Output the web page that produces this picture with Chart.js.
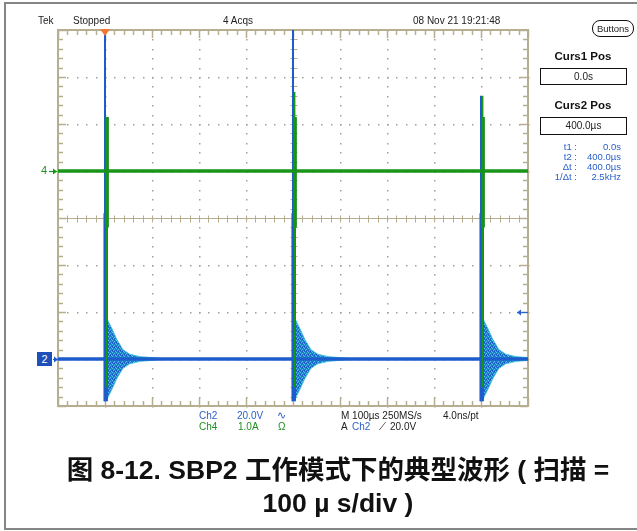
<!DOCTYPE html>
<html>
<head>
<meta charset="utf-8">
<script src="https://cdn.jsdelivr.net/npm/chart.js@4.4.1/dist/chart.umd.min.js"></script>
<style>
  body { margin: 0; background: #fff; }
  #wrap { position: relative; width: 637px; height: 531px; overflow: hidden; background: #fff; }
  #scope { position: absolute; left: 0; top: 0; }
  .frame { position: absolute; left: 4px; top: 2px; width: 640px; height: 524px;
           border-left: 2px solid #858585; border-top: 2px solid #858585; border-bottom: 2px solid #858585; }
  .t { position: absolute; white-space: nowrap; line-height: 1; font-family: "Liberation Sans", Arial, sans-serif; font-size: 10px; color: #222; }
  .blue { color: #2a5fc8; }
  .green { color: #1f8f1f; }
  .hdr { font-weight: bold; font-size: 11.5px; color: #111; width: 100px; text-align: center; }
  .box { position: absolute; border: 1px solid #111; text-align: center; font-family: "Liberation Sans", Arial, sans-serif; font-size: 10px; color: #222; box-sizing: border-box; }
  .lbl { width: 50px; text-align: right; font-size: 9.5px; }
  .val { width: 60px; text-align: right; font-size: 9.5px; }
  #caption { position: absolute; left: 0; width: 676px; top: 454px; text-align: center;
             font-family: "Liberation Sans", "Noto Sans CJK SC", sans-serif; font-weight: bold; font-size: 26.5px; line-height: 33px; color: #111; }
</style>
</head>
<body>
<div id="wrap">
  <canvas id="scope" width="637" height="531"></canvas>
  <div class="frame"></div>

  <div class="t" style="left:38px;top:16px;">Tek</div>
  <div class="t" style="left:73px;top:16px;">Stopped</div>
  <div class="t" style="left:223px;top:16px;">4 Acqs</div>
  <div class="t" style="left:413px;top:16px;">08 Nov 21 19:21:48</div>
  <div class="box" style="left:592px;top:20px;width:42px;height:17px;border-radius:8px;line-height:15px;font-size:9.5px;">Buttons</div>

  <div class="t hdr" style="left:533px;top:51px;">Curs1 Pos</div>
  <div class="box" style="left:540px;top:68px;width:87px;height:17px;line-height:15px;">0.0s</div>
  <div class="t hdr" style="left:533px;top:100px;">Curs2 Pos</div>
  <div class="box" style="left:540px;top:117px;width:87px;height:18px;line-height:16px;">400.0µs</div>

  <div class="t blue lbl" style="left:527px;top:142px;">t1 :</div>
  <div class="t blue val" style="left:561px;top:142px;">0.0s</div>
  <div class="t blue lbl" style="left:527px;top:152px;">t2 :</div>
  <div class="t blue val" style="left:561px;top:152px;">400.0µs</div>
  <div class="t blue lbl" style="left:527px;top:162px;">Δt :</div>
  <div class="t blue val" style="left:561px;top:162px;">400.0µs</div>
  <div class="t blue lbl" style="left:527px;top:172px;">1/Δt :</div>
  <div class="t blue val" style="left:561px;top:172px;">2.5kHz</div>

  <div class="t green" style="left:41px;top:165px;font-size:11px;">4</div>
  <div class="t" style="left:37px;top:352px;width:15px;height:14px;background:#1f4fb8;color:#fff;font-size:11px;line-height:14px;text-align:center;">2</div>

  <div class="t blue" style="left:199px;top:411px;">Ch2</div>
  <div class="t blue" style="left:237px;top:411px;">20.0V</div>
  <div class="t blue" style="left:277px;top:410px;font-size:11px;">∿</div>
  <div class="t" style="left:341px;top:411px;">M 100µs 250MS/s</div>
  <div class="t" style="left:443px;top:411px;">4.0ns/pt</div>
  <div class="t green" style="left:199px;top:422px;">Ch4</div>
  <div class="t green" style="left:238px;top:422px;">1.0A</div>
  <div class="t green" style="left:278px;top:422px;">Ω</div>
  <div class="t" style="left:341px;top:422px;">A</div>
  <div class="t blue" style="left:352px;top:422px;">Ch2</div>
  <div class="t" style="left:379px;top:422px;">⟋</div>
  <div class="t" style="left:390px;top:422px;">20.0V</div>

  <div id="caption">图 8-12. SBP2 工作模式下的典型波形 ( 扫描 =<br>100 µ s/div )</div>
</div>

<script>
// 时间轴：100 µs/div，触发点在 0 µs（左起第 1 格）
const timeMin = -100;
const timeMax = 900;
const divMin = -4;
const divMax = 4;

// 每 400 µs 一次开关沿
const edgeTimes = [0, 400, 800];

// Ch4（电流，绿色）基线与尖峰，单位：格
const ch4Level = 1.0;
const ch4WideTop = [2.15, 2.15, 2.15];
const ch4WideBottom = [-0.2, -0.2, -0.2];
const ch4TipTop = [2.15, 2.68, 2.6];
const ch4ThinBottom = [-3.6, -3.6, -3.6];

// Ch2（电压，蓝色）基线与尖峰
const ch2Level = -3.0;
const ch2SpikeTop = [4.3, 4.3, 2.6];
const ch2SpikeBottom = [-3.9, -3.9, -3.9];
const ch2WideTop = [0.1, 0.1, 0.1];

// 沿后振铃包络：距沿的时间 (µs) 与幅度 (格)
const ringDt = [0, 2, 5, 10, 15, 25, 38, 53, 75, 100, 130];
const ringAmp = [0, 0.87, 0.84, 0.74, 0.64, 0.42, 0.2, 0.1, 0.05, 0.03, 0];

// Ch2 触发电平（20.0V，1 格 = 20V）
const trigLevel = -2.0;

const COL_BLUE = 'rgb(28, 92, 205)';
const COL_CYAN = 'rgb(70, 200, 225)';
const COL_GREEN = 'rgb(24, 150, 24)';
const COL_GRID = 'rgb(182, 174, 142)';
const COL_DOT = 'rgb(160, 160, 150)';

function ringPoints(sign) {
    const pts = [{x: timeMin, y: ch2Level}];
    edgeTimes.forEach(t0 => {
        ringDt.forEach((dt, i) => pts.push({x: t0 + dt, y: ch2Level + sign * ringAmp[i]}));
    });
    if (pts[pts.length - 1].x < timeMax) pts.push({x: timeMax, y: ch2Level});
    return pts;
}

function segments(xOff, tops, bottoms) {
    const pts = [];
    edgeTimes.forEach((t0, i) => {
        pts.push({x: t0 + xOff, y: bottoms[i]}, {x: t0 + xOff, y: tops[i]}, {x: t0 + xOff, y: null});
    });
    return pts;
}

function ringPattern() {
    const c = document.createElement('canvas');
    c.width = 4; c.height = 4;
    const g = c.getContext('2d');
    g.fillStyle = 'rgb(40, 120, 210)';
    g.fillRect(0, 0, 4, 4);
    g.fillStyle = COL_CYAN;
    g.fillRect(0, 0, 1, 1); g.fillRect(2, 1, 1, 1); g.fillRect(1, 2, 1, 1); g.fillRect(3, 3, 1, 1);
    g.fillStyle = 'rgb(20, 80, 190)';
    g.fillRect(2, 3, 1, 1); g.fillRect(0, 2, 1, 1);
    return g.createPattern(c, 'repeat');
}

const graticule = {
    id: 'graticule',
    beforeDatasetsDraw(chart) {
        const {ctx, chartArea: a, scales: {x, y}} = chart;
        ctx.save();
        // 主格点线
        ctx.fillStyle = COL_DOT;
        for (let t = timeMin + 100; t < timeMax; t += 100) {
            if (t === 400) continue;
            const px = Math.round(x.getPixelForValue(t));
            for (let v = divMin; v <= divMax + 0.01; v += 0.2) {
                ctx.fillRect(px, Math.round(y.getPixelForValue(v)), 1.5, 1.5);
            }
        }
        for (let v = divMin + 1; v < divMax; v += 1) {
            if (v === 0) continue;
            const py = Math.round(y.getPixelForValue(v));
            for (let t = timeMin; t <= timeMax + 0.01; t += 20) {
                ctx.fillRect(Math.round(x.getPixelForValue(t)), py, 1.5, 1.5);
            }
        }
        // 中心十字
        ctx.strokeStyle = COL_GRID;
        ctx.lineWidth = 1;
        const cx = Math.round(x.getPixelForValue(400)) + 0.5;
        const cy = Math.round(y.getPixelForValue(0)) + 0.5;
        ctx.beginPath();
        ctx.moveTo(cx, a.top); ctx.lineTo(cx, a.bottom);
        ctx.moveTo(a.left, cy); ctx.lineTo(a.right, cy);
        for (let v = divMin; v <= divMax + 0.01; v += 0.2) {
            const py = Math.round(y.getPixelForValue(v)) + 0.5;
            ctx.moveTo(cx - 3, py); ctx.lineTo(cx + 4, py);
        }
        for (let t = timeMin; t <= timeMax + 0.01; t += 20) {
            const px = Math.round(x.getPixelForValue(t)) + 0.5;
            ctx.moveTo(px, cy - 3); ctx.lineTo(px, cy + 4);
        }
        ctx.stroke();
        // 边框及刻度
        ctx.lineWidth = 1.5;
        ctx.beginPath();
        for (let i = 0; i <= 50; i++) {
            const t = timeMin + i * 20;
            const px = Math.round(x.getPixelForValue(t)) + 0.5;
            const len = (i % 5 === 0) ? 8 : 5;
            ctx.moveTo(px, a.top); ctx.lineTo(px, a.top + len);
            ctx.moveTo(px, a.bottom); ctx.lineTo(px, a.bottom - len);
        }
        for (let i = 0; i <= 40; i++) {
            const v = divMin + i * 0.2;
            const py = Math.round(y.getPixelForValue(v)) + 0.5;
            const len = (i % 5 === 0) ? 8 : 5;
            ctx.moveTo(a.left, py); ctx.lineTo(a.left + len, py);
            ctx.moveTo(a.right, py); ctx.lineTo(a.right - len, py);
        }
        ctx.stroke();
        ctx.lineWidth = 2;
        ctx.strokeRect(a.left, a.top, a.right - a.left, a.bottom - a.top);
        ctx.restore();
    },
    afterDatasetsDraw(chart) {
        const {ctx, chartArea: a, scales: {x, y}} = chart;
        ctx.save();
        // 触发位置标记
        const tx = x.getPixelForValue(0);
        ctx.fillStyle = 'rgb(245, 120, 50)';
        ctx.beginPath();
        ctx.moveTo(tx - 5, a.top - 1); ctx.lineTo(tx + 5, a.top - 1); ctx.lineTo(tx, a.top + 6);
        ctx.closePath(); ctx.fill();
        // 通道基线箭头
        const arrow = (x0, x1, py, col) => {
            ctx.strokeStyle = col; ctx.fillStyle = col; ctx.lineWidth = 1.2;
            ctx.beginPath(); ctx.moveTo(x0, py); ctx.lineTo(x1, py); ctx.stroke();
            const d = x1 > x0 ? -1 : 1;
            ctx.beginPath(); ctx.moveTo(x1, py); ctx.lineTo(x1 + d * 4, py - 3); ctx.lineTo(x1 + d * 4, py + 3);
            ctx.closePath(); ctx.fill();
        };
        arrow(49, 57, Math.round(y.getPixelForValue(ch4Level)) + 0.5, COL_GREEN);
        arrow(53, 58, Math.round(y.getPixelForValue(ch2Level)) + 0.5, COL_BLUE);
        arrow(528, 517, Math.round(y.getPixelForValue(trigLevel)) + 0.5, 'rgb(40, 100, 210)');
        ctx.restore();
    }
};

const flat = (level) => [{x: timeMin, y: level}, {x: timeMax, y: level}];

new Chart(document.getElementById('scope'), {
    type: 'line',
    data: {
        datasets: [{
            label: 'Ch4 spike thin',
            data: segments(3.5, ch4TipTop, ch4ThinBottom),
            borderColor: COL_GREEN, borderWidth: 1.5, order: 1
        }, {
            label: 'Ch4 spike',
            data: segments(4, ch4WideTop, ch4WideBottom),
            borderColor: 'rgb(30, 140, 30)', borderWidth: 4, order: 2
        }, {
            label: 'Ch4',
            data: flat(ch4Level),
            borderColor: COL_GREEN, borderWidth: 3.5, order: 3
        }, {
            label: 'Ch2 spike',
            data: segments(0, ch2SpikeTop, ch2SpikeBottom),
            borderColor: COL_BLUE, borderWidth: 2, order: 4
        }, {
            label: 'Ch2 spike wide',
            data: segments(1.5, ch2WideTop, ch2SpikeBottom),
            borderColor: COL_BLUE, borderWidth: 4.5, order: 5
        }, {
            label: 'Ch2',
            data: flat(ch2Level),
            borderColor: COL_BLUE, borderWidth: 3.5, order: 6
        }, {
            label: 'Ch2 ring top',
            data: ringPoints(1),
            borderColor: COL_CYAN, borderWidth: 1, fill: false, order: 7
        }, {
            label: 'Ch2 ring bottom',
            data: ringPoints(-1),
            borderColor: COL_CYAN, borderWidth: 1,
            fill: {target: 6}, backgroundColor: ringPattern(), order: 8
        }]
    },
    options: {
        responsive: false,
        animation: false,
        devicePixelRatio: 1,
        layout: { padding: { left: 58, top: 30, right: 109, bottom: 125 } },
        elements: { point: { radius: 0 }, line: { tension: 0 } },
        plugins: { legend: { display: false }, tooltip: { enabled: false }, filler: { propagate: false } },
        scales: {
            x: { type: 'linear', min: timeMin, max: timeMax, display: false },
            y: { type: 'linear', min: divMin, max: divMax, display: false }
        }
    },
    plugins: [graticule]
});
</script>
</body>
</html>
